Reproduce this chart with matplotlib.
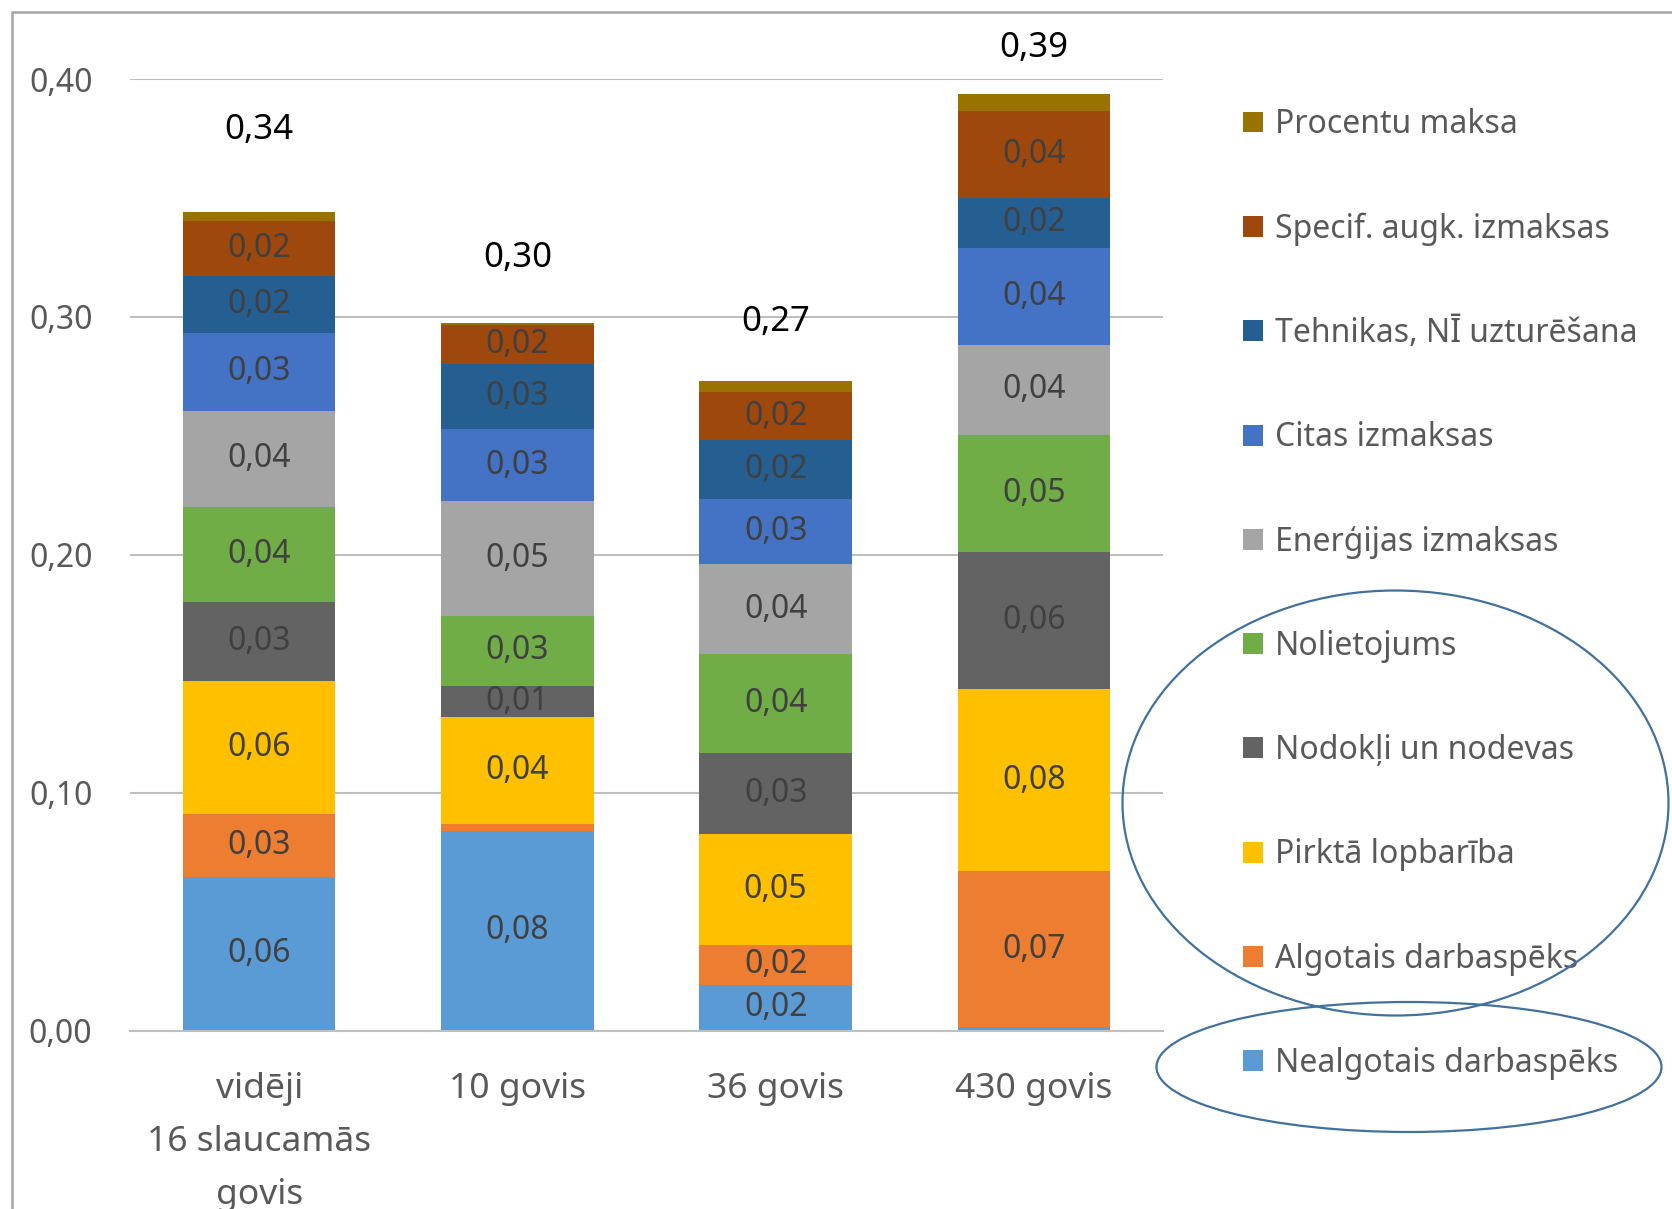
import matplotlib
matplotlib.use("Agg")
import matplotlib.pyplot as plt
from matplotlib.patches import Ellipse, Rectangle
import numpy as np

plt.rcParams['font.family'] = ['Noto Sans', 'DejaVu Sans']

#categories on the x axis
categories = ["vidēji\n16 slaucamās\ngovis", "10 govis", "36 govis", "430 govis"]

#cost components per category (bottom to top of the stack)
nealgotais = [0.0645, 0.0839, 0.0193, 0.0013]
algotais = [0.0265, 0.0031, 0.0166, 0.0659]
pirkta_lopbariba = [0.0561, 0.0448, 0.0466, 0.0762]
nodokli = [0.0332, 0.0130, 0.0341, 0.0578]
nolietojums = [0.0399, 0.0296, 0.0417, 0.0493]
energija = [0.0404, 0.0480, 0.0377, 0.0377]
citas = [0.0327, 0.0305, 0.0274, 0.0408]
tehnika = [0.0238, 0.0274, 0.0247, 0.0211]
specif = [0.0233, 0.0161, 0.0202, 0.0363]
procenti = [0.0036, 0.0010, 0.0049, 0.0072]

series_names = ["Nealgotais darbaspēks", "Algotais darbaspēks", "Pirktā lopbarība",
                "Nodokļi un nodevas", "Nolietojums", "Enerģijas izmaksas",
                "Citas izmaksas", "Tehnikas, NĪ uzturēšana", "Specif. augk. izmaksas",
                "Procentu maksa"]
series_values = [nealgotais, algotais, pirkta_lopbariba, nodokli, nolietojums,
                 energija, citas, tehnika, specif, procenti]

#styles
colors = ["#5B9BD5", "#ED7D31", "#FFC000", "#636363", "#70AD47",
          "#A5A5A5", "#4472C4", "#255E91", "#9E480E", "#997300"]
total_offsets = [0.0345, 0.0275, 0.0245, 0.0195]  #where the total labels sit above each bar
TEXT_GRAY = "#595959"
LABEL_GRAY = "#404040"
GRID_GRAY = "#BFBFBF"
OUTLINE_BLUE = "#41719C"

W, H = 1672, 1209
fig = plt.figure(figsize=(W / 100, H / 100), dpi=100)
ax = fig.add_axes([130 / W, 1 - 1030.5 / H, 1033 / W, (1030.5 - 79) / H])

x = np.arange(len(categories))
bottom = np.zeros(len(categories))
handles = []
for name, vals, col in zip(series_names, series_values, colors):
    vals = np.array(vals)
    bars = ax.bar(x, vals, 0.59, bottom=bottom, color=col, label=name, zorder=3)
    handles.append(bars)
    for xi, b, v in zip(x, bottom, vals):
        if v >= 0.008:
            ax.text(xi, b + v / 2, f"{v:.2f}".replace(".", ","), ha="center", va="center",
                    fontsize=23, color=LABEL_GRAY, zorder=4)
    bottom = bottom + vals

#totals above bars
for xi, tot, off in zip(x, bottom, total_offsets):
    ax.text(xi, tot + off, f"{tot:.2f}".replace(".", ","), ha="center", va="center",
            fontsize=25, color="black")

#axes styling
ax.set_xlim(-0.5, len(categories) - 0.5)
ax.set_ylim(0, 0.40)
ax.set_yticks([0, 0.1, 0.2, 0.3, 0.4])
ax.set_yticklabels([f"{t:.2f}".replace(".", ",") for t in [0, 0.1, 0.2, 0.3, 0.4]])
ax.set_xticks(x)
ax.set_xticklabels(categories, linespacing=1.72)
ax.tick_params(axis="y", length=0, pad=27, labelsize=23, labelcolor=TEXT_GRAY)
ax.tick_params(axis="x", length=0, pad=30, labelsize=25.5, labelcolor=TEXT_GRAY)
ax.grid(axis="y", color=GRID_GRAY, linewidth=1.5, zorder=0)
for s in ["top", "right", "left"]:
    ax.spines[s].set_visible(False)
ax.spines["bottom"].set_color(GRID_GRAY)
ax.spines["bottom"].set_linewidth(1.5)
ax.spines["bottom"].set_zorder(5)

#legend (reverse order, top = Procentu maksa)
fig.legend(handles[::-1], series_names[::-1], loc="center left",
           bbox_to_anchor=(1243 / W, 1 - 594 / H), frameon=False, fontsize=23,
           labelcolor=TEXT_GRAY, handlelength=0.63, handleheight=0.63,
           handletextpad=0.38, labelspacing=2.23, borderpad=0, borderaxespad=0)

#outer chart frame (cropped on right and bottom)
fig.patches.append(Rectangle((12 / W, -0.1), 1.2, 1.1 - 11.5 / H, transform=fig.transFigure,
                             fill=False, edgecolor="#A6A6A6", linewidth=1.8))

#hand-drawn highlight ellipses
fig.patches.append(Ellipse((1395.5 / W, 1 - 803 / H), 546 / W, 425 / H, transform=fig.transFigure,
                           fill=False, edgecolor=OUTLINE_BLUE, linewidth=1.6, zorder=10))
fig.patches.append(Ellipse((1409 / W, 1 - 1067 / H), 505 / W, 130 / H, transform=fig.transFigure,
                           fill=False, edgecolor=OUTLINE_BLUE, linewidth=1.6, zorder=10))

fig.savefig("out.png", dpi=100)
